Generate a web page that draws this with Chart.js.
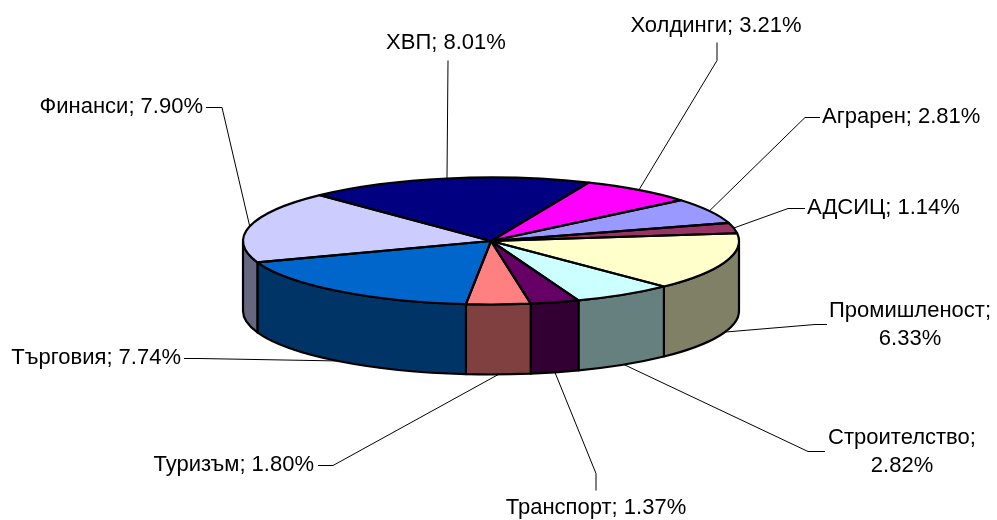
<!DOCTYPE html>
<html><head><meta charset="utf-8">
<script src="https://cdn.jsdelivr.net/npm/chart.js@4/dist/chart.umd.min.js"></script>
<style>html,body{margin:0;padding:0;background:#fff;} #wrap{width:997px;height:520px;position:relative;}</style>
</head><body><div id="wrap"><canvas id="c"></canvas></div>
<script>
// ---- data ----
const categories = ['Аграрен','АДСИЦ','Промишленост','Строителство','Транспорт','Туризъм','Търговия','Финанси','ХВП','Холдинги'];
const shares = [2.81,1.14,6.33,2.82,1.37,1.80,7.74,7.90,8.01,3.21];

// ---- styles / layout (not data) ----
const sliceColors = ['#9999FF','#993366','#FFFFCC','#CCFFFF','#660066','#FF8080','#0066CC','#CCCCFF','#000080','#FF00FF'];
const labelLayout = [
  {x:822,y:117,align:'left',  wrap:false, leader:[[820,117],[805,117]]},
  {x:807,y:208,align:'left',  wrap:false, leader:[[805,208],[788,208]]},
  {x:910,y:311,align:'center',wrap:true,  leader:[[827,324],[815,324]]},
  {x:902,y:438,align:'center',wrap:true,  leader:[[825,451],[808,451]]},
  {x:596,y:508,align:'center',wrap:false, leader:[[596,490],[596,473]]},
  {x:314,y:465,align:'right', wrap:false, leader:[[318,465],[333,465]]},
  {x:181,y:358,align:'right', wrap:false, leader:[[184,358],[199,358]]},
  {x:203,y:107,align:'right', wrap:false, leader:[[206,107],[222,107]]},
  {x:446,y:43, align:'center',wrap:false, leader:[[448,60]]},
  {x:716,y:26, align:'center',wrap:false, leader:[[717,42],[717,60]]}
];
const TILT = 0.256, DEPTH = 70, FACE_CY = 241, LINE_H = 28;
const FONT = '22px "Liberation Sans", Arial, sans-serif';

function darken(hex){
  const n = parseInt(hex.slice(1),16);
  const r=(n>>16)&255, g=(n>>8)&255, b=n&255;
  return 'rgb(' + Math.round(r/2) + ',' + Math.round(g/2) + ',' + Math.round(b/2) + ')';
}

const pie3d = {
  id: 'pie3d',
  beforeDatasetsDraw(chart){
    const ctx = chart.ctx;
    const arcs = chart.getDatasetMeta(0).data;
    if (!arcs.length) return;
    const cx = arcs[0].x, R = arcs[0].outerRadius, ry = R*TILT;
    arcs.forEach((arc, i) => {
      const s = arc.startAngle, e = arc.endAngle;
      for (const off of [-2*Math.PI, 0, 2*Math.PI]) {
        const a = Math.max(s, off), b = Math.min(e, off + Math.PI);
        if (b <= a) continue;
        ctx.beginPath();
        ctx.ellipse(cx, FACE_CY, R, ry, 0, a, b, false);
        ctx.ellipse(cx, FACE_CY + DEPTH, R, ry, 0, b, a, true);
        ctx.closePath();
        ctx.fillStyle = darken(sliceColors[i]);
        ctx.fill();
        ctx.lineWidth = 2.2; ctx.lineJoin = 'round'; ctx.strokeStyle = '#000';
        ctx.stroke();
      }
    });
    ctx.save();
    ctx.translate(0, FACE_CY);
    ctx.scale(1, TILT);
    ctx.translate(0, -arcs[0].y);
  },
  afterDatasetsDraw(chart){
    const ctx = chart.ctx;
    ctx.restore();
    const arcs = chart.getDatasetMeta(0).data;
    if (!arcs.length) return;
    const cx = arcs[0].x, R = arcs[0].outerRadius, ry = R*TILT;
    ctx.lineWidth = 2.2; ctx.lineJoin = 'round'; ctx.strokeStyle = '#000';
    arcs.forEach(arc => {
      ctx.beginPath();
      ctx.moveTo(cx, FACE_CY);
      ctx.ellipse(cx, FACE_CY, R, ry, 0, arc.startAngle, arc.endAngle, false);
      ctx.closePath();
      ctx.stroke();
    });
    // leaders + labels
    ctx.font = FONT; ctx.fillStyle = '#000'; ctx.textBaseline = 'middle';
    arcs.forEach((arc, i) => {
      const L = labelLayout[i];
      const m = (arc.startAngle + arc.endAngle)/2;
      const sm = Math.sin(m);
      const ax = cx + R*Math.cos(m);
      const ay = FACE_CY + ry*sm + (sm > 0 ? DEPTH : 0);
      ctx.beginPath();
      ctx.lineWidth = 1; ctx.strokeStyle = '#000';
      L.leader.forEach((p, k) => { if (k === 0) ctx.moveTo(p[0], p[1]+0.5); else ctx.lineTo(p[0], p[1]+0.5); });
      ctx.lineTo(ax, ay);
      ctx.stroke();
      const val = shares[i].toFixed(2) + '%';
      const lines = L.wrap ? [categories[i] + ';', val] : [categories[i] + '; ' + val];
      ctx.textAlign = L.align;
      lines.forEach((t, k) => ctx.fillText(t, L.x, L.y + k*LINE_H));
    });
  }
};

new Chart(document.getElementById('c'), {
  type: 'pie',
  data: {
    labels: categories,
    datasets: [{ data: shares, backgroundColor: sliceColors, borderWidth: 0, clip: false, rotation: 50 }]
  },
  options: {
    responsive: true, maintainAspectRatio: false, animation: false, events: [],
    rotation: 50,
    layout: { padding: { left: 243, right: 258, top: 0, bottom: 24 } },
    plugins: { legend: { display: false }, tooltip: { enabled: false } }
  },
  plugins: [pie3d]
});
</script>
</body></html>
